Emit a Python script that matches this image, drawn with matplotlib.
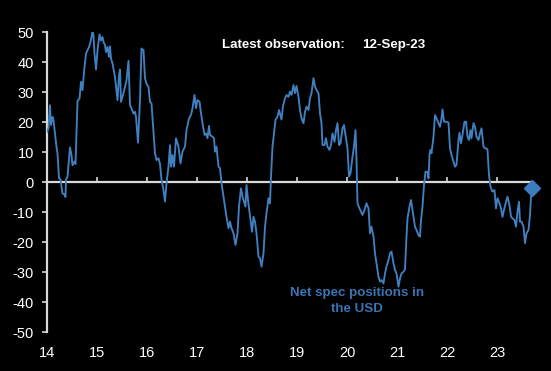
import matplotlib
matplotlib.use('Agg')
import matplotlib.pyplot as plt

# weekly net spec positions in the USD (decimal year, value)
years = [14.00, 14.03, 14.06, 14.08, 14.11, 14.13, 14.16, 14.19, 14.21, 14.24,
         14.27, 14.31, 14.34, 14.37, 14.38, 14.41, 14.46, 14.49, 14.51, 14.55,
         14.57, 14.61, 14.65, 14.68, 14.71, 14.74, 14.78, 14.81, 14.84, 14.87,
         14.91, 14.93, 14.95, 14.98, 15.01, 15.05, 15.08, 15.11, 15.13, 15.16,
         15.18, 15.21, 15.24, 15.26, 15.28, 15.31, 15.36, 15.41, 15.44, 15.46,
         15.48, 15.51, 15.56, 15.59, 15.63, 15.66, 15.69, 15.73, 15.76, 15.78,
         15.82, 15.86, 15.89, 15.93, 15.96, 15.99, 16.03, 16.06, 16.09, 16.13,
         16.16, 16.19, 16.23, 16.26, 16.29, 16.33, 16.36, 16.39, 16.43, 16.46,
         16.48, 16.51, 16.54, 16.58, 16.63, 16.67, 16.71, 16.76, 16.79, 16.84,
         16.88, 16.91, 16.95, 16.98, 17.01, 17.05, 17.08, 17.11, 17.15, 17.18,
         17.21, 17.24, 17.26, 17.31, 17.34, 17.36, 17.39, 17.43, 17.46, 17.49,
         17.53, 17.56, 17.59, 17.63, 17.66, 17.69, 17.73, 17.77, 17.81, 17.84,
         17.88, 17.91, 17.94, 17.97, 17.99, 18.02, 18.05, 18.07, 18.10, 18.13,
         18.16, 18.19, 18.23, 18.26, 18.29, 18.33, 18.36, 18.39, 18.43, 18.46,
         18.48, 18.51, 18.54, 18.57, 18.61, 18.64, 18.69, 18.72, 18.76, 18.79,
         18.83, 18.86, 18.89, 18.93, 18.96, 18.99, 19.03, 19.06, 19.09, 19.13,
         19.16, 19.19, 19.23, 19.26, 19.29, 19.33, 19.36, 19.39, 19.43, 19.46,
         19.49, 19.51, 19.55, 19.58, 19.61, 19.65, 19.68, 19.71, 19.75, 19.78,
         19.81, 19.84, 19.87, 19.91, 19.94, 19.97, 20.01, 20.04, 20.07, 20.11,
         20.14, 20.17, 20.19, 20.21, 20.25, 20.28, 20.31, 20.35, 20.39, 20.43,
         20.46, 20.49, 20.53, 20.56, 20.59, 20.63, 20.66, 20.69, 20.73, 20.76,
         20.79, 20.83, 20.86, 20.89, 20.93, 20.96, 20.99, 21.03, 21.06, 21.09,
         21.13, 21.16, 21.19, 21.21, 21.25, 21.28, 21.31, 21.36, 21.39, 21.43,
         21.46, 21.48, 21.51, 21.54, 21.57, 21.61, 21.63, 21.65, 21.67, 21.69,
         21.73, 21.76, 21.79, 21.83, 21.86, 21.89, 21.91, 21.94, 21.98, 22.03,
         22.06, 22.09, 22.13, 22.16, 22.19, 22.23, 22.25, 22.28, 22.31, 22.35,
         22.38, 22.41, 22.44, 22.47, 22.49, 22.53, 22.56, 22.59, 22.63, 22.66,
         22.69, 22.73, 22.76, 22.79, 22.81, 22.84, 22.87, 22.91, 22.95, 22.98,
         23.01, 23.05, 23.08, 23.11, 23.14, 23.18, 23.21, 23.25, 23.28, 23.31,
         23.35, 23.38, 23.41, 23.44, 23.46, 23.49, 23.53, 23.56, 23.59, 23.63,
         23.66, 23.68, 23.70]
net_spec = [16.7, 18.0, 25.6, 19.0, 21.7, 20.6, 16.0, 11.7, 9.5, 1.2,
            0.9, -3.8, -4.0, -5.0, 0.7, 1.8, 11.5, 9.0, 5.6, 6.8,
            6.0, 27.0, 27.8, 33.4, 30.6, 36.7, 42.8, 43.9, 45.0, 46.7,
            50.0, 48.9, 42.8, 37.5, 43.9, 49.2, 47.2, 48.3, 46.7, 45.6,
            43.3, 45.0, 41.7, 45.2, 41.1, 39.5, 35.0, 27.3, 35.6, 37.5,
            26.7, 28.4, 31.7, 33.9, 40.4, 25.6, 24.5, 22.8, 23.4, 21.7,
            13.1, 27.3, 44.5, 43.9, 34.5, 32.8, 31.7, 26.7, 26.2, 16.7,
            9.5, 7.3, 7.9, 6.0, 0.8, -2.7, -6.5, -0.4, 5.1, 12.3,
            5.1, 9.0, 5.1, 14.6, 11.8, 6.2, 10.1, 11.8, 17.3, 21.2,
            22.3, 24.6, 29.0, 24.6, 27.3, 26.8, 22.9, 19.6, 15.7, 16.2,
            14.6, 18.7, 15.7, 15.1, 14.6, 10.1, 11.8, 5.1, 4.6, -0.4,
            -4.9, -8.2, -11.6, -15.4, -13.2, -15.4, -17.1, -21.0, -17.1, -8.2,
            -2.1, -4.9, -6.6, -8.2, -1.0, -6.0, -9.9, -12.7, -16.6, -11.6,
            -13.2, -17.1, -24.9, -25.4, -28.2, -23.8, -14.9, -10.4, -5.4, -7.1,
            1.8, 11.8, 16.2, 20.7, 21.8, 24.0, 20.8, 25.3, 27.9, 29.0,
            28.4, 30.1, 29.0, 32.3, 29.6, 32.0, 28.4, 24.0, 21.2, 19.6,
            23.4, 25.1, 24.0, 27.9, 29.6, 34.6, 31.8, 30.7, 29.6, 22.9,
            19.6, 12.3, 12.3, 14.6, 11.8, 10.7, 12.3, 16.2, 13.4, 17.3,
            19.6, 12.3, 12.9, 17.9, 19.0, 15.7, 11.2, 1.8, 2.9, 8.4,
            11.8, 17.3, 7.3, -7.1, -8.8, -9.9, -11.0, -9.3, -7.1, -8.8,
            -17.1, -14.9, -18.2, -23.8, -27.1, -31.6, -33.2, -32.7, -33.8, -30.5,
            -28.2, -26.0, -23.8, -23.2, -27.1, -29.3, -30.5, -34.9, -32.1, -30.5,
            -29.9, -29.1, -18.2, -12.1, -8.2, -6.0, -9.3, -14.9, -16.0, -17.7,
            -18.2, -12.7, -8.2, -1.0, 3.4, 3.4, 1.2, 9.0, 10.7, 9.6,
            15.1, 22.3, 21.2, 19.6, 18.4, 21.2, 24.2, 20.1, 20.1, 19.8,
            11.2, 9.0, 6.8, 5.1, 5.7, 14.0, 16.4, 12.9, 15.7, 20.1,
            20.1, 15.1, 14.0, 17.3, 14.6, 19.6, 18.4, 15.1, 14.0, 16.2,
            17.9, 11.8, 11.2, 11.2, 10.7, 2.3, -1.6, -3.2, -2.7, -8.8,
            -5.4, -7.1, -8.8, -11.6, -9.3, -6.6, -4.9, -7.7, -11.6, -12.1,
            -12.7, -14.9, -9.9, -6.6, -13.2, -13.2, -14.9, -20.4, -17.1, -16.0,
            -11.0, -4.9, -2.1]

latest_label = '12-Sep-23'
year_ticks = [14, 15, 16, 17, 18, 19, 20, 21, 22, 23]
year_labels = ['14', '15', '16', '17', '18', '19', '20', '21', '22', '23']
y_ticks = [-50, -40, -30, -20, -10, 0, 10, 20, 30, 40, 50]

plt.rcParams['font.family'] = ['Liberation Sans', 'DejaVu Sans']

line_col = '#4080C0'
axis_col = '#D9D9D9'

fig = plt.figure(figsize=(5.51, 3.71), dpi=100, facecolor='black')
ax = fig.add_axes([47 / 551, 1 - 332 / 371, (532 - 47) / 551, 300 / 371])
ax.set_facecolor('black')

ax.plot(years, net_spec, color=line_col, lw=1.35, zorder=3)
ax.plot(years[-1:], net_spec[-1:], marker='D', ms=8, color='#3C7DBF',
        zorder=4, clip_on=False)

ax.set_xlim(14, 23.70)
ax.set_ylim(-50, 50)

for s in ['top', 'right']:
    ax.spines[s].set_visible(False)
ax.spines['left'].set_color(axis_col)
ax.spines['left'].set_linewidth(1.6)
ax.spines['bottom'].set_position(('data', 0))
ax.spines['bottom'].set_color(axis_col)
ax.spines['bottom'].set_linewidth(1.6)
ax.spines['bottom'].set_zorder(2)

ax.set_yticks(y_ticks)
ax.set_yticklabels([str(v) for v in y_ticks])
ax.set_xticks(year_ticks)
ax.set_xticklabels(year_labels)
ax.tick_params(axis='y', direction='out', length=3.5, width=1.2, color=axis_col,
               labelcolor='white', labelsize=10.5, pad=6)
ax.tick_params(axis='x', direction='in', length=3.5, width=1.2, color=axis_col,
               labelcolor='white', labelsize=10.5, pad=118)

fig.text(222 / 551, 1 - 45 / 371, 'Latest observation:', ha='left', va='center',
         color='white', weight='bold', size=9.6)
fig.text(362 / 551, 1 - 45 / 371, latest_label, ha='left', va='center',
         color='white', weight='bold', size=9.6)
fig.text(357 / 551, 1 - 301 / 371, 'Net spec positions in\nthe USD', ha='center',
         va='center', color='#3B74B2', weight='bold', size=9.6, linespacing=1.35)

fig.savefig('out.png', dpi=100, facecolor='black')
